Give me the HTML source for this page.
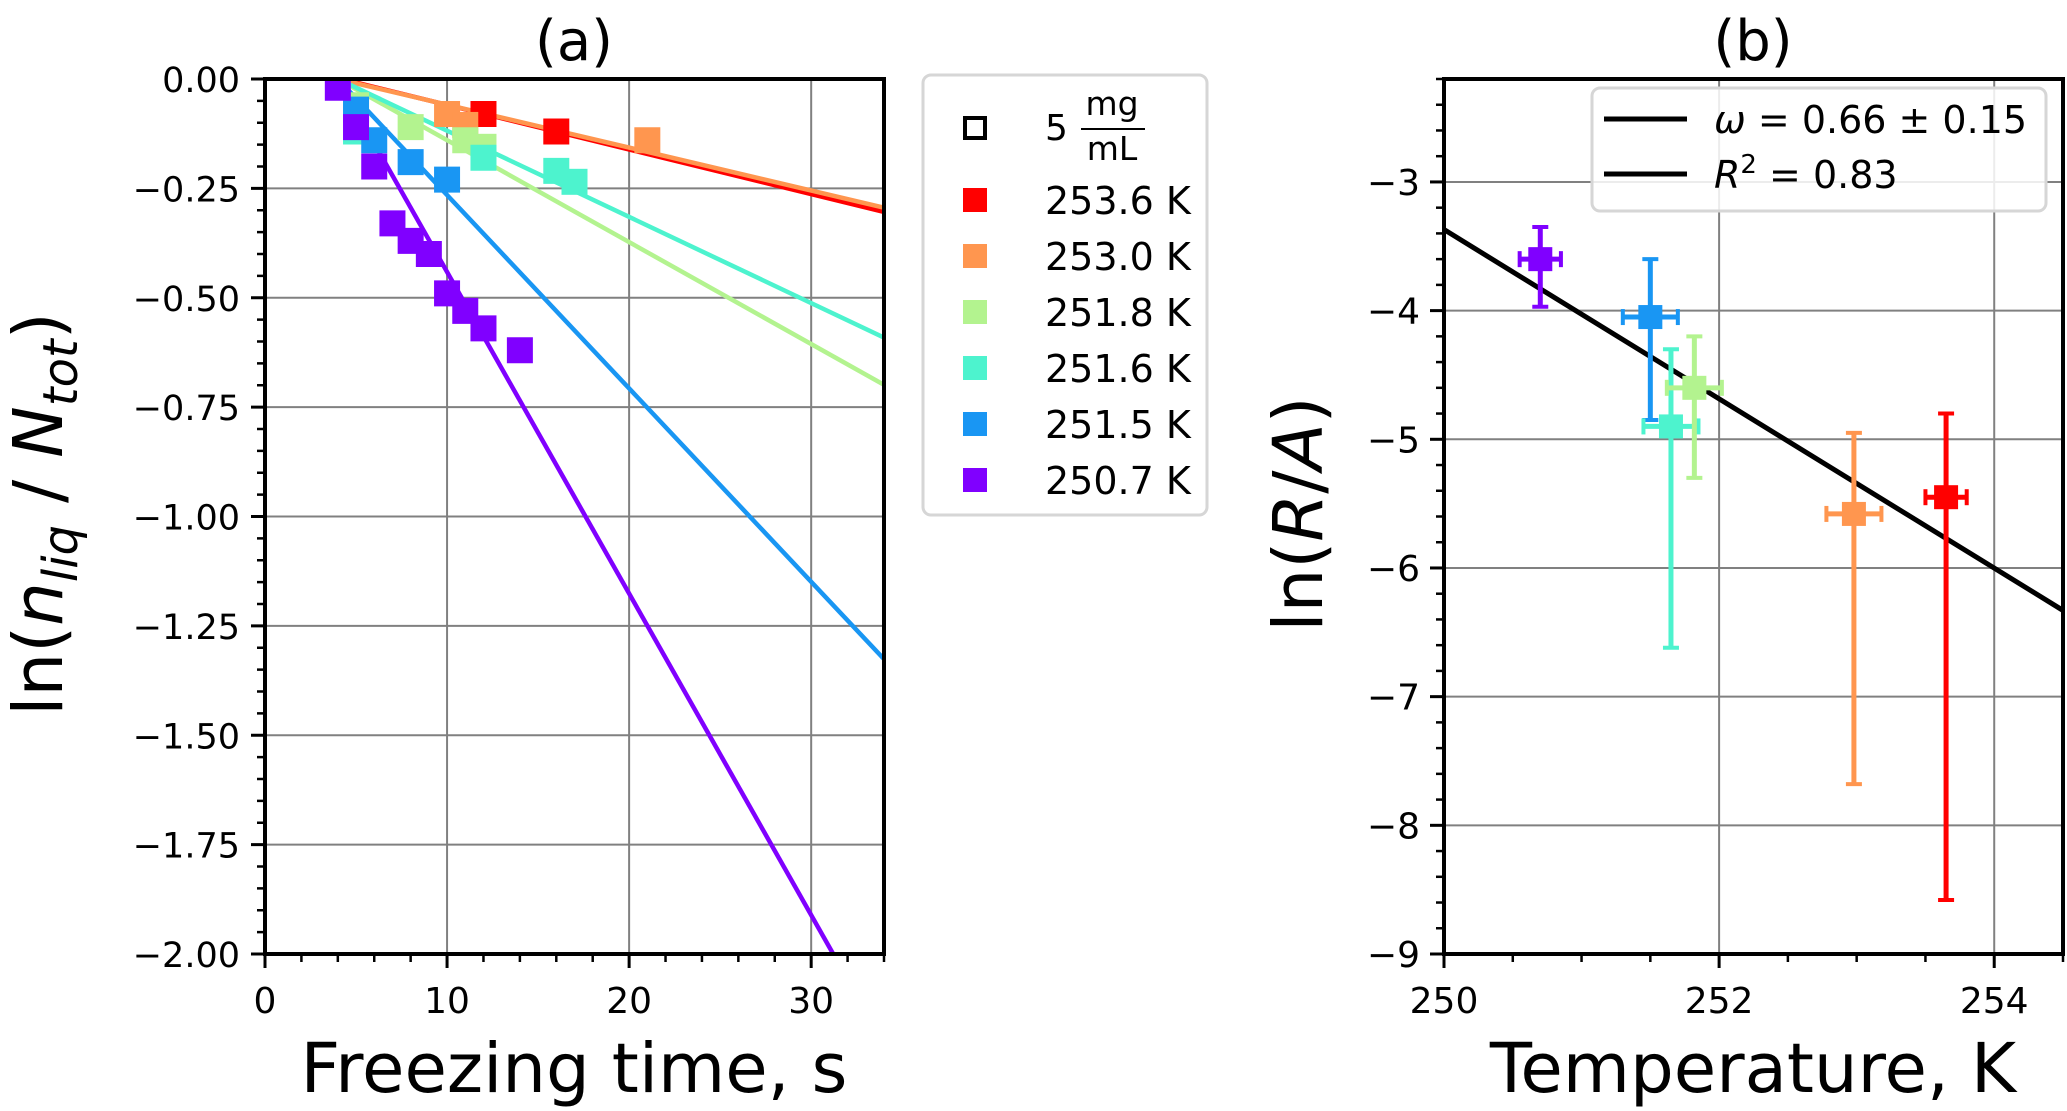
<!DOCTYPE html>
<html><head><meta charset="utf-8"><style>
html,body{margin:0;padding:0;background:#fff}
svg{display:block}
text{font-family:"DejaVu Sans","Liberation Sans",sans-serif;fill:#000}
</style></head><body>
<svg id="chart" width="2067" height="1111" viewBox="0 0 2067 1111" xmlns="http://www.w3.org/2000/svg">
<g id="pa"></g>
<g id="pb"></g>
</svg>
<script>
// Panel (a) data
const seriesLabels = ["253.6 K","253.0 K","251.8 K","251.6 K","251.5 K","250.7 K"];
const seriesColors = ["#ff0000","#ff964f","#b3f38f","#4df3ce","#1996f3","#8000ff"];
const timesRed = [12,16];            const valsRed = [-0.08,-0.12];
const timesOrange = [10,11,21];      const valsOrange = [-0.08,-0.105,-0.14];
const timesGreen = [5,8,11,12];      const valsGreen = [-0.06,-0.11,-0.14,-0.155];
const timesTurq = [5,12,16,17];      const valsTurq = [-0.12,-0.18,-0.21,-0.235];
const timesBlue = [5,6,8,10];        const valsBlue = [-0.07,-0.14,-0.19,-0.23];
const timesPurple = [4,5,6,7,8,9,10,11,12,14];
const valsPurple = [-0.02,-0.11,-0.2,-0.33,-0.37,-0.4,-0.49,-0.53,-0.57,-0.62];
const fitStart = [4.2,4,4,4,4,4];
const fitSlope = [-0.0102,-0.0098,-0.0233,-0.0197,-0.0442,-0.0735];
const xTicksA = [0,10,20,30];
const yTicksA = [0,-0.25,-0.5,-0.75,-1,-1.25,-1.5,-1.75,-2];
const yTickLabelsA = ["0.00","\u22120.25","\u22120.50","\u22120.75","\u22121.00","\u22121.25","\u22121.50","\u22121.75","\u22122.00"];
// Panel (b) data
const tempsB = [250.7,251.5,251.65,251.82,252.98,253.65];
const lnRA = [-3.6,-4.05,-4.9,-4.6,-5.58,-5.45];
const yErrHi = [-3.35,-3.6,-4.3,-4.2,-4.95,-4.8];
const yErrLo = [-3.97,-4.85,-6.62,-5.3,-7.68,-8.58];
const xErrB = [0.15,0.2,0.2,0.2,0.2,0.15];
const colorIdxB = [5,4,3,2,1,0];
const fitLineT = [250,254.5];
const fitLineY = [-3.37,-6.33];
const xTicksB = [250,252,254];
const yTicksB = [-3,-4,-5,-6,-7,-8,-9];

const NS="http://www.w3.org/2000/svg";
function mk(parent,tag,attrs,txt){const e=document.createElementNS(NS,tag);for(const k in attrs)e.setAttribute(k,attrs[k]);if(txt!==undefined)e.textContent=txt;parent.appendChild(e);return e;}

// axes A
const AL=265,AR=884,AT=79,AB=954;
const xa=v=>AL+(v-0)/34*(AR-AL);
const ya=v=>AT+(0-v)/2*(AB-AT);
const pa=document.getElementById('pa');
const gridA=mk(pa,'g',{});


xTicksA.forEach(t=>mk(gridA,'line',{x1:xa(t),x2:xa(t),y1:AT,y2:AB,stroke:'#808080','stroke-width':2}));
yTicksA.forEach(t=>mk(gridA,'line',{x1:AL,x2:AR,y1:ya(t),y2:ya(t),stroke:'#808080','stroke-width':2}));
const clipA=mk(mk(pa,'defs',{}),'clipPath',{id:'ca'});mk(clipA,'rect',{x:AL,y:AT,width:AR-AL,height:AB-AT});
const linesA=mk(pa,'g',{'clip-path':'url(#ca)'});


fitStart.forEach((s,i)=>{const l=mk(linesA,'line',{x1:xa(s),y1:ya(0),x2:xa(34),y2:ya(fitSlope[i]*(34-s)),stroke:seriesColors[i],'stroke-width':4.5});

});
const allT=[timesRed,timesOrange,timesGreen,timesTurq,timesBlue,timesPurple];
const allV=[valsRed,valsOrange,valsGreen,valsTurq,valsBlue,valsPurple];
allT.forEach((ts,i)=>{const g=mk(linesA,'g',{fill:seriesColors[i]});


ts.forEach((t,j)=>{const r=mk(g,'rect',{x:xa(t)-13,y:ya(allV[i][j])-13,width:26,height:26});

});});
mk(pa,'rect',{x:AL,y:AT,width:AR-AL,height:AB-AT,fill:'none',stroke:'#000','stroke-width':4});
for(let t=0;t<=34;t+=2){const maj=t%10===0;mk(pa,'line',{x1:xa(t),x2:xa(t),y1:AB,y2:AB+(maj?14:8),stroke:'#000','stroke-width':maj?3:2.5});}
for(let k=0;k<=40;k++){const t=-k*0.05;const maj=k%5===0;mk(pa,'line',{x1:AL,x2:AL-(maj?14:8),y1:ya(t),y2:ya(t),stroke:'#000','stroke-width':maj?3:2.5});}
xTicksA.forEach(t=>{const e=mk(pa,'text',{x:xa(t),y:1013,'font-size':36,'text-anchor':'middle'},String(t));});
yTicksA.forEach((t,i)=>{const e=mk(pa,'text',{x:240,y:ya(t)+13,'font-size':35,'text-anchor':'end'},yTickLabelsA[i]);});
let e;
e=mk(pa,'text',{x:574,y:1092,'font-size':69,'text-anchor':'middle'},'Freezing time, s');
e=mk(pa,'text',{x:574,y:60,'font-size':56,'text-anchor':'middle'},'(a)');
e=mk(pa,'text',{x:0,y:0,'font-size':69,'text-anchor':'middle',transform:'translate(62,514) rotate(-90)'});

e.innerHTML='ln(<tspan font-style="italic">n</tspan><tspan font-style="italic" font-size="48" dy="15">liq</tspan><tspan dy="-15"> / </tspan><tspan font-style="italic">N</tspan><tspan font-style="italic" font-size="48" dy="15">tot</tspan><tspan dy="-15">)</tspan>';
// legend A
const lg=mk(pa,'g',{});


mk(lg,'rect',{x:923,y:75,width:284,height:440,rx:8,fill:'#fff',stroke:'#d6d6d6','stroke-width':3});
mk(lg,'rect',{x:965,y:118,width:20,height:20,fill:'none',stroke:'#000','stroke-width':4});
mk(lg,'text',{x:1045,y:140,'font-size':36},'5');
mk(lg,'text',{x:1112,y:115,'font-size':33,'text-anchor':'middle'},'mg');
mk(lg,'line',{x1:1081,x2:1145,y1:129,y2:129,stroke:'#000','stroke-width':2});
mk(lg,'text',{x:1112,y:160,'font-size':33,'text-anchor':'middle'},'mL');
seriesLabels.forEach((s,i)=>{const cy=200+i*56;const g=mk(lg,'g',{});


mk(g,'rect',{x:963,y:cy-12,width:24,height:24,fill:seriesColors[i]});
mk(g,'text',{x:1045,y:cy+14,'font-size':38},s);});

// axes B
const BL=1444,BR=2063,BT=79,BB=954;
const xb=v=>BL+(v-250)/4.5*(BR-BL);
const yb=v=>BT+(-2.2-v)/6.8*(BB-BT);
const pb=document.getElementById('pb');
const gridB=mk(pb,'g',{});


xTicksB.forEach(t=>mk(gridB,'line',{x1:xb(t),x2:xb(t),y1:BT,y2:BB,stroke:'#808080','stroke-width':2}));
yTicksB.forEach(t=>mk(gridB,'line',{x1:BL,x2:BR,y1:yb(t),y2:yb(t),stroke:'#808080','stroke-width':2}));
const fl=mk(pb,'line',{x1:xb(fitLineT[0]),y1:yb(fitLineY[0]),x2:xb(fitLineT[1]),y2:yb(fitLineY[1]),stroke:'#000','stroke-width':5});


tempsB.forEach((t,i)=>{const c=seriesColors[colorIdxB[i]];const g=mk(pb,'g',{stroke:c,'stroke-width':5});


mk(g,'line',{x1:xb(t),x2:xb(t),y1:yb(yErrHi[i]),y2:yb(yErrLo[i])});
mk(g,'line',{x1:xb(t)-8,x2:xb(t)+8,y1:yb(yErrHi[i]),y2:yb(yErrHi[i]),'stroke-width':4});
mk(g,'line',{x1:xb(t)-8,x2:xb(t)+8,y1:yb(yErrLo[i]),y2:yb(yErrLo[i]),'stroke-width':4});
mk(g,'line',{x1:xb(t-xErrB[i]),x2:xb(t+xErrB[i]),y1:yb(lnRA[i]),y2:yb(lnRA[i])});
mk(g,'line',{x1:xb(t-xErrB[i]),x2:xb(t-xErrB[i]),y1:yb(lnRA[i])-8,y2:yb(lnRA[i])+8,'stroke-width':4});
mk(g,'line',{x1:xb(t+xErrB[i]),x2:xb(t+xErrB[i]),y1:yb(lnRA[i])-8,y2:yb(lnRA[i])+8,'stroke-width':4});
mk(g,'rect',{x:xb(t)-12,y:yb(lnRA[i])-12,width:24,height:24,fill:c,stroke:'none'});});
mk(pb,'rect',{x:BL,y:BT,width:BR-BL,height:BB-BT,fill:'none',stroke:'#000','stroke-width':4});
for(let k=0;k<=9;k++){const t=250+k*0.5;const maj=k%4===0;mk(pb,'line',{x1:xb(t),x2:xb(t),y1:BB,y2:BB+(maj?14:8),stroke:'#000','stroke-width':maj?3:2.5});}
for(let k=0;k<=34;k++){const t=-9+k*0.2;const maj=k%5===0;mk(pb,'line',{x1:BL,x2:BL-(maj?14:8),y1:yb(t),y2:yb(t),stroke:'#000','stroke-width':maj?3:2.5});}
xTicksB.forEach(t=>{const e=mk(pb,'text',{x:xb(t),y:1013,'font-size':36,'text-anchor':'middle'},String(t));});
yTicksB.forEach(t=>{const e=mk(pb,'text',{x:1420,y:yb(t)+13,'font-size':36,'text-anchor':'end'},'\u2212'+Math.abs(t));});
e=mk(pb,'text',{x:1753,y:1092,'font-size':69,'text-anchor':'middle'},'Temperature, K');
e=mk(pb,'text',{x:1753,y:60,'font-size':56,'text-anchor':'middle'},'(b)');
e=mk(pb,'text',{x:0,y:0,'font-size':69,'text-anchor':'middle',transform:'translate(1322,514) rotate(-90)'});

e.innerHTML='ln(<tspan font-style="italic">R</tspan>/<tspan font-style="italic">A</tspan>)';
const lb=mk(pb,'g',{});


mk(lb,'rect',{x:1592,y:88,width:454,height:123,rx:8,fill:'#fff','fill-opacity':0.85,stroke:'#d6d6d6','stroke-width':3});
mk(lb,'line',{x1:1604,x2:1687,y1:119,y2:119,stroke:'#000','stroke-width':5});
mk(lb,'line',{x1:1604,x2:1687,y1:174,y2:174,stroke:'#000','stroke-width':5});
e=mk(lb,'text',{x:1714,y:133,'font-size':38});e.innerHTML='<tspan font-style="italic">ω</tspan> = 0.66 ± 0.15';
e=mk(lb,'text',{x:1714,y:188,'font-size':38});e.innerHTML='<tspan font-style="italic">R</tspan><tspan font-size="26" dy="-15">2</tspan><tspan dy="15"> = 0.83</tspan>';
</script>
</body></html>
